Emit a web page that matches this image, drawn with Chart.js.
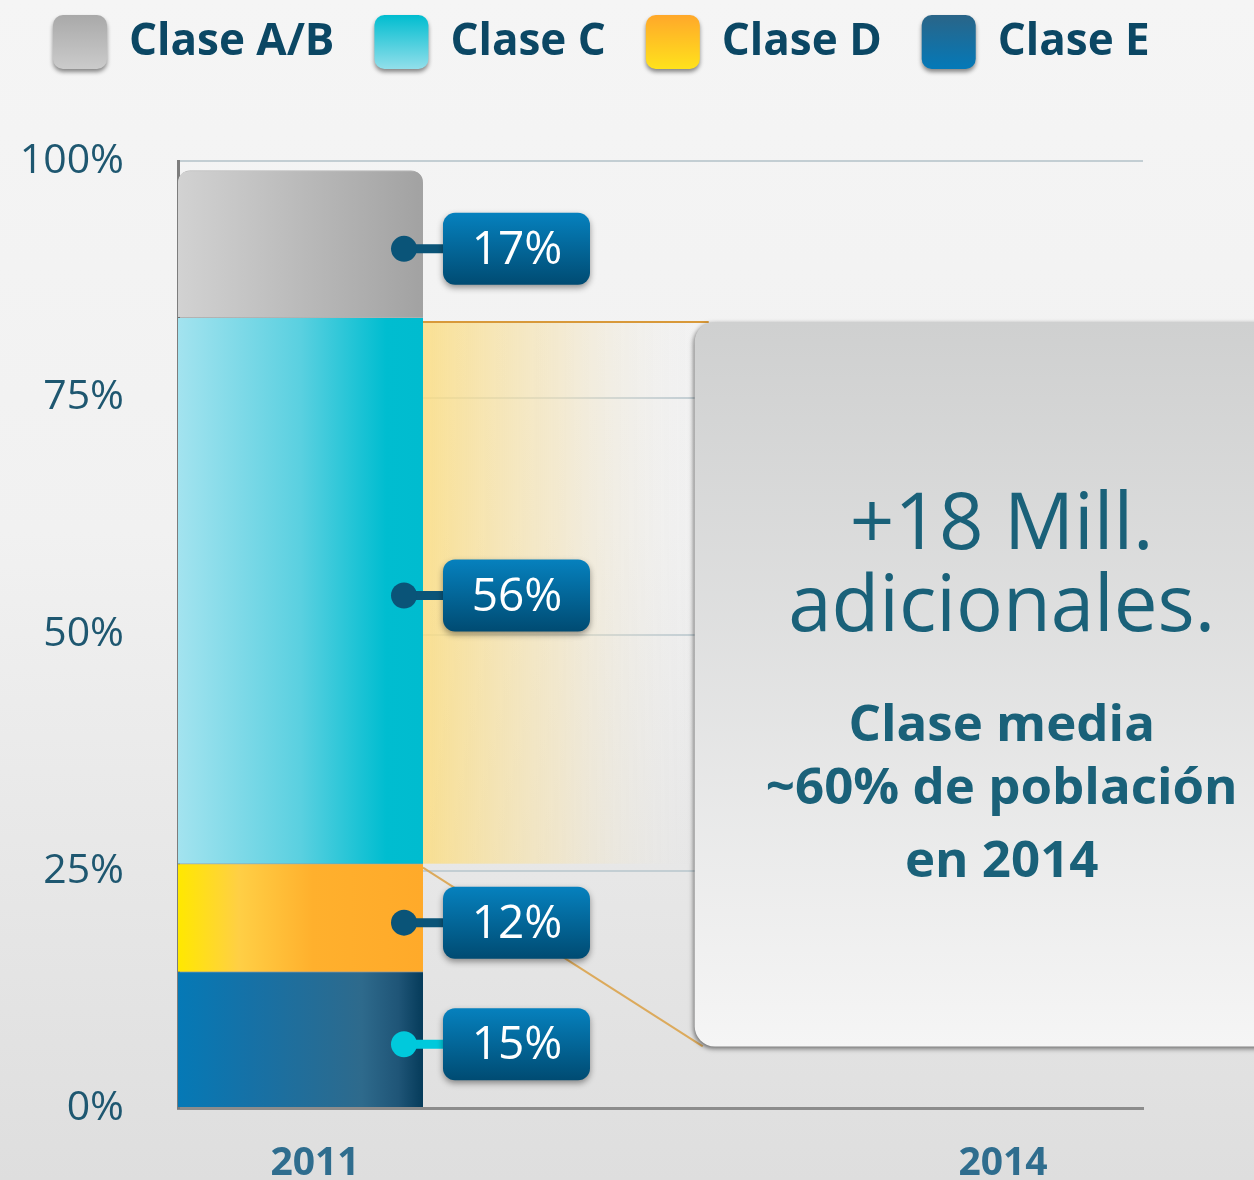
<!DOCTYPE html>
<html>
<head>
<meta charset="utf-8">
<title>Clase media</title>
<script src="https://cdn.jsdelivr.net/npm/chart.js@4.4.1/dist/chart.umd.min.js"></script>
<style>
  html, body { margin: 0; padding: 0; }
  body {
    width: 1254px; height: 1180px; overflow: hidden;
    background: linear-gradient(180deg, #f5f5f5 0%, #f1f1f1 45%, #dedede 100%);
  }
  canvas { display: block; }
</style>
</head>
<body>
<canvas id="classChart" width="1254" height="1180"></canvas>
<script>
// data (2011 only, 2014 is covered by the callout)
const years = ['2011', '2014'];
const seriesNames = ['Clase E', 'Clase D', 'Clase C', 'Clase A/B'];
const claseE = [14.4, null];
const claseD = [11.4, null];
const claseC = [57.7, null];
const claseAB = [15.5, null];
const shareText = ['15%', '12%', '56%', '17%'];   // E, D, C, A/B
const yTicks = [0, 25, 50, 75, 100];
const calloutBig = ['+18 Mill.', 'adicionales.'];
const calloutSmall = ['Clase media', '~60% de población', 'en 2014'];

const FONT = '"Open Sans", "Noto Sans", sans-serif';
const BAR_W = 245;

// horizontal gradient across the bar
function hGradient(stops) {
    return function (context) {
        const chart = context.chart;
        if (!chart.chartArea) return stops[stops.length - 1][1];
        const cx = chart.scales.x.getPixelForValue(0);
        const g = chart.ctx.createLinearGradient(cx - BAR_W / 2, 0, cx + BAR_W / 2, 0);
        stops.forEach(s => g.addColorStop(s[0], s[1]));
        return g;
    };
}

const legendBoxColors = [
    ['#2a6588', '#0479b8'],
    ['#ffa82a', '#ffe21c'],
    ['#00bdd0', '#92dfeb'],
    ['#a9a9a9', '#cbcbcb']
];

function roundRect(ctx, x, y, w, h, r) {
    ctx.beginPath();
    ctx.roundRect(x, y, w, h, r);
}

const legendBoxes = {
    id: 'legendBoxes',
    afterDraw(chart) {
        const {ctx, legend} = chart;
        legend.legendHitBoxes.forEach((hb, i) => {
            const item = legend.legendItems[i];
            const cols = legendBoxColors[item.datasetIndex];
            const bx = hb.left, by = hb.top + hb.height / 2 - 27;
            ctx.save();
            ctx.shadowColor = 'rgba(0,0,0,0.45)';
            ctx.shadowBlur = 4;
            ctx.shadowOffsetY = 3;
            const g = ctx.createLinearGradient(0, by, 0, by + 54);
            g.addColorStop(0, cols[0]);
            g.addColorStop(1, cols[1]);
            ctx.fillStyle = g;
            roundRect(ctx, bx, by, 54, 54, 10);
            ctx.fill();
            ctx.restore();
        });
    }
};

const callout = {
    id: 'callout',
    beforeDatasetsDraw(chart) {
        const {ctx, scales: {x, y}} = chart;
        const c = chart.getDatasetMeta(2).data[0];
        const right = c.x + c.width / 2;
        const boxLeft = x.getPixelForValue(0.573);
        const top = y.getPixelForValue(83);
        const bottom = y.getPixelForValue(6.5);
        ctx.save();
        const g = ctx.createLinearGradient(right, 0, boxLeft, 0);
        g.addColorStop(0, 'rgba(251,221,130,0.85)');
        g.addColorStop(0.5, 'rgba(244,228,185,0.6)');
        g.addColorStop(1, 'rgba(235,235,235,0)');
        ctx.fillStyle = g;
        ctx.fillRect(right, top, boxLeft + 14 - right, c.base - top);
        ctx.strokeStyle = '#d8993a';
        ctx.lineWidth = 2;
        ctx.beginPath();
        ctx.moveTo(right, top);
        ctx.lineTo(boxLeft + 14, top);
        ctx.stroke();
        ctx.strokeStyle = '#dcaa5c';
        ctx.beginPath();
        ctx.moveTo(right, c.base + 4);
        ctx.lineTo(boxLeft + 8, bottom);
        ctx.stroke();
        ctx.restore();
    },
    afterDatasetsDraw(chart) {
        const {ctx, scales: {x, y}} = chart;
        const boxLeft = x.getPixelForValue(0.573);
        const top = y.getPixelForValue(83);
        const bottom = y.getPixelForValue(6.5);

        // grey callout box
        ctx.save();
        ctx.shadowColor = 'rgba(0,0,0,0.55)';
        ctx.shadowBlur = 5;
        ctx.shadowOffsetX = -1;
        ctx.shadowOffsetY = 2;
        const g = ctx.createLinearGradient(0, top, 0, bottom);
        g.addColorStop(0, '#cfd0d0');
        g.addColorStop(1, '#f5f5f5');
        ctx.fillStyle = g;
        roundRect(ctx, boxLeft, top, chart.width + 40 - boxLeft, bottom - top, [20, 0, 0, 20]);
        ctx.fill();
        ctx.restore();

        const cx = boxLeft + 307;
        ctx.save();
        ctx.fillStyle = '#1a6179';
        ctx.textAlign = 'center';
        ctx.textBaseline = 'alphabetic';
        ctx.font = '400 78px ' + FONT;
        ctx.fillText(calloutBig[0], cx, top + 227);
        ctx.fillText(calloutBig[1], cx, top + 309);
        ctx.font = 'bold 51px ' + FONT;
        ctx.fillText(calloutSmall[0], cx, top + 419);
        ctx.fillText(calloutSmall[1], cx, top + 482);
        ctx.fillText(calloutSmall[2], cx, top + 555);
        ctx.restore();

        // share labels next to the bar
        chart.data.datasets.forEach((ds, d) => {
            const el = chart.getDatasetMeta(d).data[0];
            if (!el) return;
            const right = el.x + el.width / 2;
            const cy = (el.y + el.base) / 2 + 5;
            const dotColor = d === 0 ? '#00c9dc' : '#0a5478';
            ctx.save();
            ctx.strokeStyle = dotColor;
            ctx.lineWidth = 9;
            ctx.beginPath();
            ctx.moveTo(right - 19, cy);
            ctx.lineTo(right + 22, cy);
            ctx.stroke();
            ctx.fillStyle = dotColor;
            ctx.beginPath();
            ctx.arc(right - 19, cy, 13, 0, Math.PI * 2);
            ctx.fill();

            const bx = right + 20, by = cy - 36;
            ctx.shadowColor = 'rgba(0,0,0,0.4)';
            ctx.shadowBlur = 6;
            ctx.shadowOffsetY = 3;
            const lg = ctx.createLinearGradient(0, by, 0, by + 72);
            lg.addColorStop(0, '#0681be');
            lg.addColorStop(1, '#004b72');
            ctx.fillStyle = lg;
            roundRect(ctx, bx, by, 147, 72, 12);
            ctx.fill();
            ctx.shadowColor = 'transparent';
            ctx.fillStyle = '#ffffff';
            ctx.font = '46px ' + FONT;
            ctx.textAlign = 'center';
            ctx.textBaseline = 'middle';
            ctx.fillText(shareText[d], bx + 74, cy + 2);
            ctx.restore();
        });
    }
};

const toPoints = arr => arr.map((v, i) => ({x: i, y: v}));

const ctx = document.getElementById('classChart');

new Chart(ctx, {
    type: 'bar',
    data: {
        datasets: [{
            label: seriesNames[0],
            data: toPoints(claseE),
            backgroundColor: hGradient([[0, '#0579b6'], [0.3, '#1671a6'], [0.75, '#2e6a8c'], [0.9, '#1f5577'], [1, '#053b5a']])
        }, {
            label: seriesNames[1],
            data: toPoints(claseD),
            backgroundColor: hGradient([[0, '#ffe800'], [0.25, '#ffcf45'], [0.55, '#ffb02d'], [1, '#ffaa2a']])
        }, {
            label: seriesNames[2],
            data: toPoints(claseC),
            backgroundColor: hGradient([[0, '#a3e3ef'], [0.5, '#5ad0e0'], [0.85, '#00bdd0'], [1, '#00bccf']])
        }, {
            label: seriesNames[3],
            data: toPoints(claseAB),
            backgroundColor: hGradient([[0, '#d2d2d2'], [1, '#a2a2a2']]),
            borderRadius: {topLeft: 12, topRight: 12, bottomLeft: 0, bottomRight: 0}
        }].map(ds => Object.assign({
            barThickness: BAR_W,
            borderColor: 'rgba(70,70,70,0.35)',
            borderWidth: {top: 1, left: 0, right: 0, bottom: 0}
        }, ds))
    },
    options: {
        responsive: false,
        animation: false,
        layout: {
            autoPadding: false,
            padding: {top: -107, left: 13, right: 0, bottom: 0}
        },
        plugins: {
            tooltip: {enabled: false},
            legend: {
                position: 'top',
                align: 'start',
                reverse: true,
                labels: {
                    boxWidth: 54,
                    boxHeight: 218,
                    padding: 40,
                    color: '#0b4764',
                    font: {family: FONT, size: 44, weight: 'bold'},
                    generateLabels(chart) {
                        const items = Chart.defaults.plugins.legend.labels.generateLabels(chart);
                        items.forEach(it => {
                            it.fillStyle = 'rgba(0,0,0,0)';
                            it.strokeStyle = 'rgba(0,0,0,0)';
                            it.lineWidth = 0;
                        });
                        return items;
                    }
                }
            }
        },
        scales: {
            x: {
                type: 'linear',
                stacked: true,
                offset: false,
                min: -0.17805,
                max: 1.22457,
                afterBuildTicks(scale) {
                    scale.ticks = years.map((_, i) => ({value: i}));
                },
                afterFit(scale) {
                    scale.height = 72;
                },
                grid: {display: false, drawTicks: false},
                border: {display: true, color: '#8c8c8c', width: 3},
                ticks: {
                    padding: 32,
                    labelOffset: 14.5,
                    color: '#2f6d8e',
                    font: {family: FONT, size: 39, weight: 'bold'},
                    callback: v => years[v]
                }
            },
            y: {
                stacked: true,
                min: 0,
                max: 100,
                afterBuildTicks(scale) {
                    scale.ticks = yTicks.map(v => ({value: v}));
                },
                afterFit(scale) {
                    scale.width = 165;
                    // tick padding would otherwise push the plot bottom up
                    scale.paddingTop = 0;
                    scale.paddingBottom = 0;
                },
                grid: {color: '#c3ced3', lineWidth: 2, drawTicks: false},
                border: {display: true, color: '#7d7d7d', width: 3},
                ticks: {
                    padding: 54,
                    color: '#1e5770',
                    font: {family: FONT, size: 41},
                    callback: v => v + '%'
                }
            },
            // empty right-hand axis that keeps the plot clear of the callout overhang
            yRight: {
                position: 'right',
                display: true,
                min: 0,
                max: 100,
                afterFit(scale) {
                    scale.width = 111;
                },
                grid: {display: false, drawTicks: false},
                border: {display: false},
                ticks: {display: false}
            }
        }
    },
    plugins: [callout, legendBoxes]
});
</script>
</body>
</html>
